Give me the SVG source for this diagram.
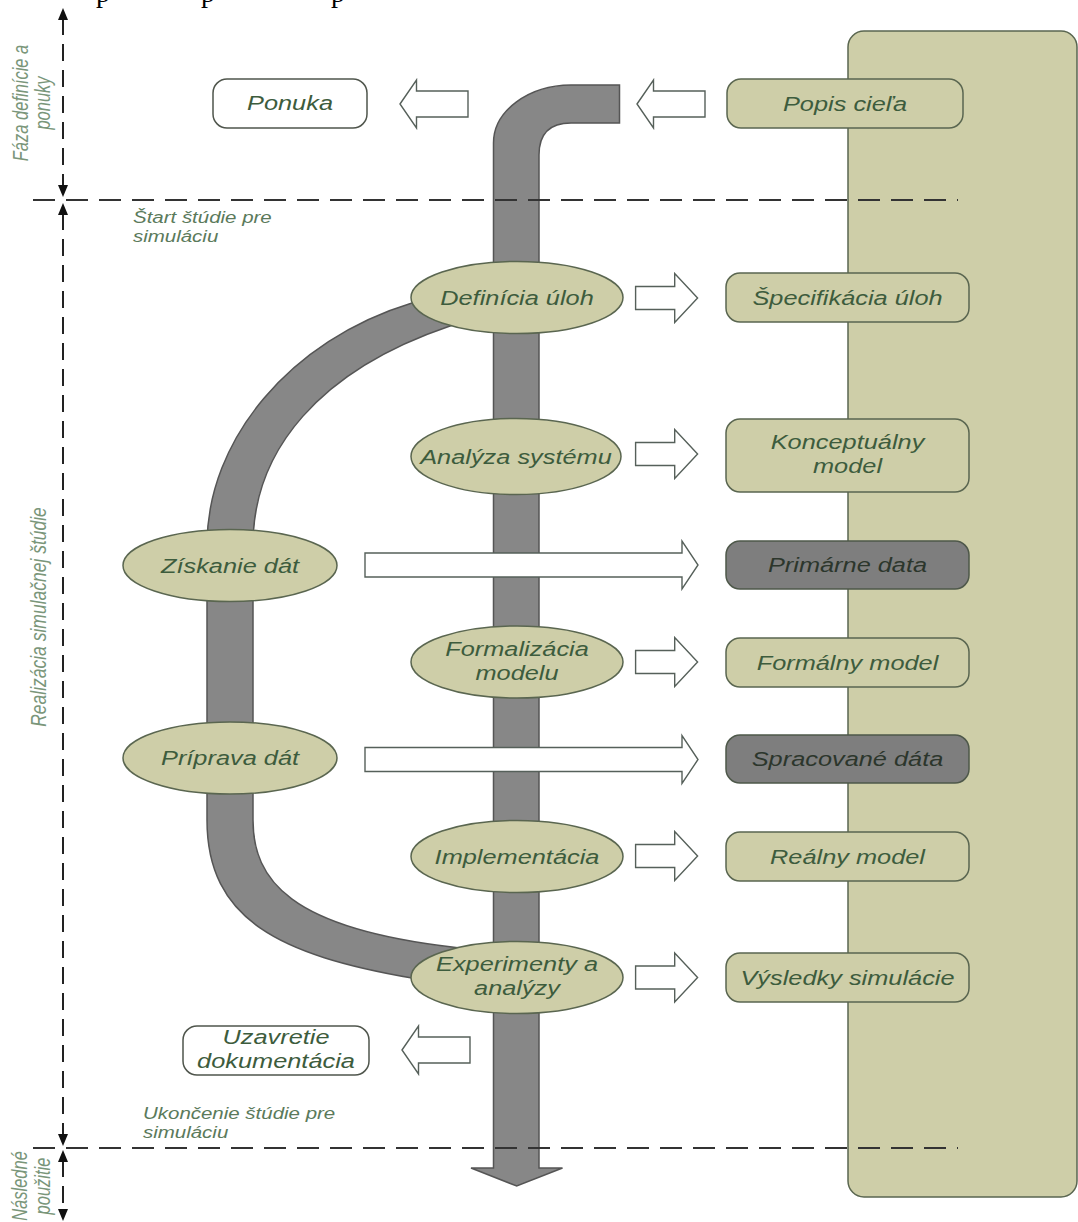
<svg xmlns="http://www.w3.org/2000/svg" width="1078" height="1222" viewBox="0 0 1078 1222">
  <defs>
    <style>
      .lbl{font-family:"Liberation Sans",Arial,sans-serif;font-style:italic;font-size:19.5px;fill:#3d5c3d;text-anchor:middle}
      .lbl.dk{fill:#2c362c}
      .note{font-family:"Liberation Sans",Arial,sans-serif;font-style:italic;font-size:16px;fill:#5b7a5b}
      .side{font-family:"Liberation Sans",Arial,sans-serif;font-style:italic;font-size:16.5px;fill:#7a967a;text-anchor:middle}
      .cut{font-family:"Liberation Serif","Times New Roman",serif;font-size:28px;fill:#000;text-anchor:middle}
      .khaki{fill:#cecea8;stroke:#5a6650;stroke-width:1.5}
      .grey{fill:#7e7e7e;stroke:#4e584a;stroke-width:1.5}
      .white{fill:#fff;stroke:#4f554c;stroke-width:1.5}
      .pipe{fill:#878787;stroke:#555;stroke-width:1.5}
      .hollow{fill:#fff;stroke:#56605a;stroke-width:1.4}
      .hdash{stroke:#333;stroke-width:2;fill:none;stroke-dasharray:22 11}
      .vdash{stroke:#222;stroke-width:2;fill:none;stroke-dasharray:17 9}
      .tip{fill:#111}
    </style>
    <!-- block arrows, drawn about y = 0 -->
    <path id="ra" d="M635.6 -11.5 H674.7 V-24.5 L697.6 0 L674.7 24.5 V11.5 H635.6 Z"/>
    <path id="la" d="M0 0 L16.5 -24 V-13 H68 V13 H16.5 V24 Z"/>
    <path id="lra" d="M365 -12 H682 V-24 L698 0 L682 24 V12 H365 Z"/>
  </defs>

  <rect width="1078" height="1222" fill="#fff"/>

  <!-- clipped line of text above the figure -->
  <text class="cut" x="103" y="2">p</text>
  <text class="cut" x="208" y="2">p</text>
  <text class="cut" x="338" y="2">p</text>

  <!-- client side panel -->
  <g id="panel">
    <rect class="khaki" x="848" y="31" width="229" height="1166" rx="16"/>
  </g>

  <g id="connectors">
    <!-- main process flow -->
    <path class="pipe" d="M619.5 85 H571 A78 58 0 0 0 493.5 143 V1168 H471 L516.7 1186 L562.5 1168 H539 V155 Q539 123 571 123 H619.5 Z"/>
    <!-- data branch -->
    <path class="pipe" d="M442 292 L412 303 C290 340 207 440 207 545 V820 C207 920 280 955 412 978 L442 982 L482 951 L452 947 C290 928 253 880 253 820 V545 C253 450 320 370 450 326 L480 315 Z"/>
    <!-- hollow block arrows -->
    <use href="#la" class="hollow" x="400" y="104"/>
    <use href="#la" class="hollow" x="637" y="104"/>
    <use href="#la" class="hollow" x="402" y="1050"/>
    <use href="#ra" class="hollow" y="298"/>
    <use href="#ra" class="hollow" y="454"/>
    <use href="#ra" class="hollow" y="662"/>
    <use href="#ra" class="hollow" y="856"/>
    <use href="#ra" class="hollow" y="977.5"/>
    <use href="#lra" class="hollow" y="565"/>
    <use href="#lra" class="hollow" y="759.5"/>
  </g>

  <!-- phase boundaries -->
  <g id="phases">
    <line class="hdash" x1="33" y1="200" x2="958" y2="200"/>
    <line class="hdash" x1="33" y1="1148" x2="958" y2="1148"/>
    <line class="vdash" x1="63" y1="18" x2="63" y2="187"/>
    <line class="vdash" x1="63" y1="213" x2="63" y2="1136"/>
    <line class="vdash" x1="63" y1="1160" x2="63" y2="1210"/>
    <polygon class="tip" points="63,8 58,20 68,20"/>
    <polygon class="tip" points="63,197 58,185 68,185"/>
    <polygon class="tip" points="63,203 58,215 68,215"/>
    <polygon class="tip" points="63,1146 58,1134 68,1134"/>
    <polygon class="tip" points="63,1150 58,1162 68,1162"/>
    <polygon class="tip" points="63,1221 58,1209 68,1209"/>
    <text class="side" transform="translate(28,103) scale(1.3,1) rotate(-90)">Fáza definície a</text>
    <text class="side" transform="translate(50,103) scale(1.3,1) rotate(-90)">ponuky</text>
    <text class="side" style="font-size:17.5px" transform="translate(46,617) scale(1.3,1) rotate(-90)">Realizácia simulačnej štúdie</text>
    <text class="side" transform="translate(27,1186) scale(1.3,1) rotate(-90)">Následné</text>
    <text class="side" transform="translate(50,1186) scale(1.3,1) rotate(-90)">použitie</text>
    <text class="note" transform="matrix(1.28 0 0 1 133 223)">Štart štúdie pre</text>
    <text class="note" transform="matrix(1.28 0 0 1 133 242)">simuláciu</text>
    <text class="note" transform="matrix(1.28 0 0 1 143 1119)">Ukončenie štúdie pre</text>
    <text class="note" transform="matrix(1.28 0 0 1 143 1138)">simuláciu</text>
  </g>

  <!-- process steps -->
  <g id="definicia-uloh">
    <ellipse class="khaki" cx="517" cy="297.5" rx="106" ry="36"/>
    <text class="lbl" transform="matrix(1.3 0 0 1 517 304.5)">Definícia úloh</text>
  </g>
  <g id="analyza-systemu">
    <ellipse class="khaki" cx="516" cy="456.5" rx="105" ry="38"/>
    <text class="lbl" transform="matrix(1.3 0 0 1 516 463.5)">Analýza systému</text>
  </g>
  <g id="formalizacia-modelu">
    <ellipse class="khaki" cx="517" cy="662" rx="106" ry="36"/>
    <text class="lbl" transform="matrix(1.3 0 0 1 517 655.5)">Formalizácia</text>
    <text class="lbl" transform="matrix(1.3 0 0 1 517 679.5)">modelu</text>
  </g>
  <g id="implementacia">
    <ellipse class="khaki" cx="517" cy="856.5" rx="106" ry="36"/>
    <text class="lbl" transform="matrix(1.3 0 0 1 517 863.5)">Implementácia</text>
  </g>
  <g id="experimenty">
    <ellipse class="khaki" cx="517" cy="977.5" rx="106" ry="36"/>
    <text class="lbl" transform="matrix(1.3 0 0 1 517 971)">Experimenty a</text>
    <text class="lbl" transform="matrix(1.3 0 0 1 517 995)">analýzy</text>
  </g>
  <g id="ziskanie-dat">
    <ellipse class="khaki" cx="230" cy="565.5" rx="107" ry="36"/>
    <text class="lbl" transform="matrix(1.3 0 0 1 230 572.5)">Získanie dát</text>
  </g>
  <g id="priprava-dat">
    <ellipse class="khaki" cx="230" cy="758" rx="107" ry="36"/>
    <text class="lbl" transform="matrix(1.3 0 0 1 230 765)">Príprava dát</text>
  </g>

  <!-- outcomes -->
  <g id="ponuka">
    <rect class="white" x="213" y="79" width="154" height="49" rx="14"/>
    <text class="lbl" transform="matrix(1.3 0 0 1 290 110)">Ponuka</text>
  </g>
  <g id="uzavretie">
    <rect class="white" x="183" y="1026" width="186" height="49" rx="14"/>
    <text class="lbl" transform="matrix(1.3 0 0 1 276 1044)">Uzavretie</text>
    <text class="lbl" transform="matrix(1.3 0 0 1 276 1068)">dokumentácia</text>
  </g>
  <g id="popis-ciela">
    <rect class="khaki" x="727" y="79" width="236" height="49" rx="14"/>
    <text class="lbl" transform="matrix(1.3 0 0 1 845 110.5)">Popis cieľa</text>
  </g>
  <g id="specifikacia-uloh">
    <rect class="khaki" x="726" y="273" width="243" height="49" rx="14"/>
    <text class="lbl" transform="matrix(1.3 0 0 1 847.5 304.5)">Špecifikácia úloh</text>
  </g>
  <g id="konceptualny-model">
    <rect class="khaki" x="726" y="419" width="243" height="73" rx="14"/>
    <text class="lbl" transform="matrix(1.3 0 0 1 847.5 449)">Konceptuálny</text>
    <text class="lbl" transform="matrix(1.3 0 0 1 847.5 473)">model</text>
  </g>
  <g id="primarne-data">
    <rect class="grey" x="726" y="541" width="243" height="48" rx="14"/>
    <text class="lbl dk" transform="matrix(1.3 0 0 1 847.5 572)">Primárne data</text>
  </g>
  <g id="formalny-model">
    <rect class="khaki" x="726" y="638" width="243" height="49" rx="14"/>
    <text class="lbl" transform="matrix(1.3 0 0 1 847.5 669.5)">Formálny model</text>
  </g>
  <g id="spracovane-data">
    <rect class="grey" x="726" y="735" width="243" height="48" rx="14"/>
    <text class="lbl dk" transform="matrix(1.3 0 0 1 847.5 766)">Spracované dáta</text>
  </g>
  <g id="realny-model">
    <rect class="khaki" x="726" y="832" width="243" height="49" rx="14"/>
    <text class="lbl" transform="matrix(1.3 0 0 1 847.5 863.5)">Reálny model</text>
  </g>
  <g id="vysledky-simulacie">
    <rect class="khaki" x="726" y="953" width="243" height="49" rx="14"/>
    <text class="lbl" transform="matrix(1.3 0 0 1 847.5 984.5)">Výsledky simulácie</text>
  </g>
</svg>
